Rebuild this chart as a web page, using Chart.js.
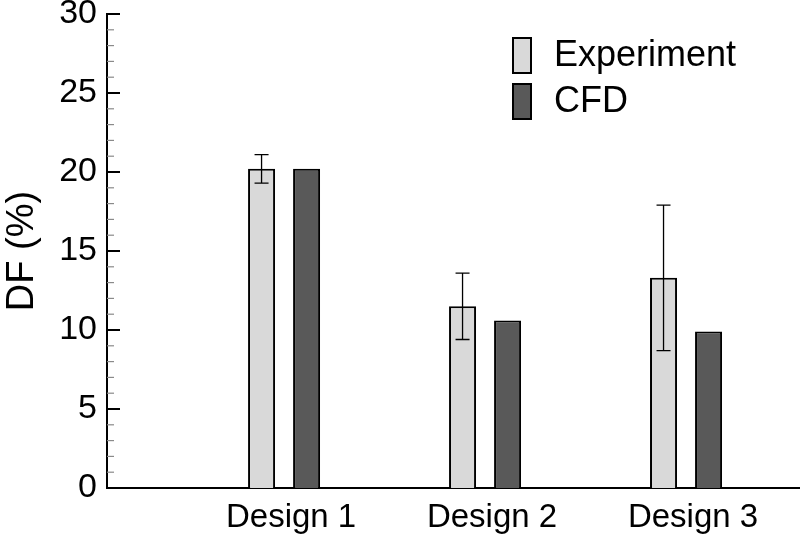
<!DOCTYPE html>
<html lang="en">
<head>
    <meta charset="UTF-8">
    <title>DF comparison</title>
    <script src="https://cdn.jsdelivr.net/npm/chart.js"></script>
    <style>
        html, body { margin: 0; padding: 0; background: #fff; }
        #wrap { width: 800px; height: 536px; }
    </style>
</head>
<body>
    <div id="wrap"><canvas id="dfChart"></canvas></div>

    <script>
        // Daten
        const categories = ['Design 1', 'Design 2', 'Design 3'];
        const xPositions = [1, 2, 3];
        const experiment = [20.2, 11.5, 13.3];
        const experimentErr = [0.9, 2.1, 4.6];
        const cfd = [20.2, 10.6, 9.9];
        const yTicks = [0, 5, 10, 15, 20, 25, 30];

        const FONT = 'Liberation Sans, Arial, sans-serif';

        // Fehlerbalken, Tick-Striche nach innen und Legende
        const extras = {
            id: 'extras',
            afterDatasetsDraw(chart) {
                const ctx = chart.ctx;
                const y = chart.scales.y;
                const meta = chart.getDatasetMeta(0);
                ctx.save();
                ctx.strokeStyle = '#000';
                ctx.lineWidth = 1.3;
                meta.data.forEach((bar, i) => {
                    const cx = bar.x;
                    const top = y.getPixelForValue(experiment[i] + experimentErr[i]);
                    const bot = y.getPixelForValue(experiment[i] - experimentErr[i]);
                    ctx.beginPath();
                    ctx.moveTo(cx, top); ctx.lineTo(cx, bot);
                    ctx.moveTo(cx - 7, top); ctx.lineTo(cx + 7, top);
                    ctx.moveTo(cx - 7, bot); ctx.lineTo(cx + 7, bot);
                    ctx.stroke();
                });

                // kleine Ticks (jede Einheit) und große Ticks
                const left = chart.chartArea.left;
                for (let v = 0; v <= 30; v++) {
                    const py = y.getPixelForValue(v);
                    ctx.beginPath();
                    if (v % 5 === 0) {
                        ctx.strokeStyle = '#000';
                        ctx.lineWidth = 2;
                        ctx.moveTo(left, py); ctx.lineTo(left + 13, py);
                    } else {
                        ctx.strokeStyle = '#8a8a8a';
                        ctx.lineWidth = 1.2;
                        ctx.moveTo(left, py); ctx.lineTo(left + 7, py);
                    }
                    ctx.stroke();
                }

                // Legende
                const items = chart.data.datasets;
                const lx = 513, ly = 38;
                ctx.font = '36px ' + FONT;
                ctx.textBaseline = 'middle';
                items.forEach((ds, i) => {
                    const by = ly + i * 46;
                    ctx.fillStyle = ds.backgroundColor;
                    ctx.strokeStyle = '#000';
                    ctx.lineWidth = 2;
                    ctx.beginPath();
                    ctx.rect(lx, by, 18, 35);
                    ctx.fill();
                    ctx.stroke();
                    ctx.fillStyle = '#000';
                    ctx.fillText(ds.label, lx + 41, by + 18);
                });
                ctx.restore();
            }
        };

        const ctx = document.getElementById('dfChart').getContext('2d');
        new Chart(ctx, {
            type: 'bar',
            data: {
                datasets: [
                    {
                        label: 'Experiment',
                        data: xPositions.map((p, i) => ({ x: p, y: experiment[i] })),
                        backgroundColor: '#d9d9d9',
                        borderColor: '#000',
                        borderWidth: 2
                    },
                    {
                        label: 'CFD',
                        data: xPositions.map((p, i) => ({ x: p, y: cfd[i] })),
                        backgroundColor: '#595959',
                        borderColor: '#000',
                        borderWidth: 2
                    }
                ]
            },
            options: {
                responsive: true,
                maintainAspectRatio: false,
                animation: false,
                categoryPercentage: 0.448,
                barPercentage: 0.6,
                layout: { padding: 0 },
                plugins: {
                    legend: { display: false },
                    tooltip: { enabled: false }
                },
                scales: {
                    x: {
                        type: 'linear',
                        offset: false,
                        min: 0.119,
                        max: 3.567,
                        grid: { display: false, drawTicks: false },
                        border: { display: true, color: '#000', width: 2 },
                        ticks: {
                            stepSize: 1,
                            includeBounds: false,
                            autoSkip: false,
                            maxRotation: 0,
                            padding: 10,
                            labelOffset: 7,
                            color: '#000',
                            font: { family: FONT, size: 33 },
                            callback: (v) => {
                                const i = xPositions.indexOf(v);
                                return i >= 0 ? categories[i] : '';
                            }
                        },
                        afterFit: (s) => { s.height = 48; }
                    },
                    y: {
                        min: 0,
                        max: 30,
                        grid: { display: false, drawTicks: false },
                        border: { display: true, color: '#000', width: 2 },
                        afterBuildTicks: (s) => { s.ticks = yTicks.map(v => ({ value: v })); },
                        ticks: {
                            padding: 10,
                            color: '#000',
                            font: { family: FONT, size: 34, lineHeight: 0.9 }
                        },
                        title: {
                            display: true,
                            text: 'DF (%)',
                            color: '#000',
                            font: { family: FONT, size: 38 },
                            padding: { top: 0, bottom: 0 }
                        },
                        afterFit: (s) => { s.width = 107; s.paddingTop = 14; }
                    }
                }
            },
            plugins: [extras]
        });
    </script>
</body>
</html>
